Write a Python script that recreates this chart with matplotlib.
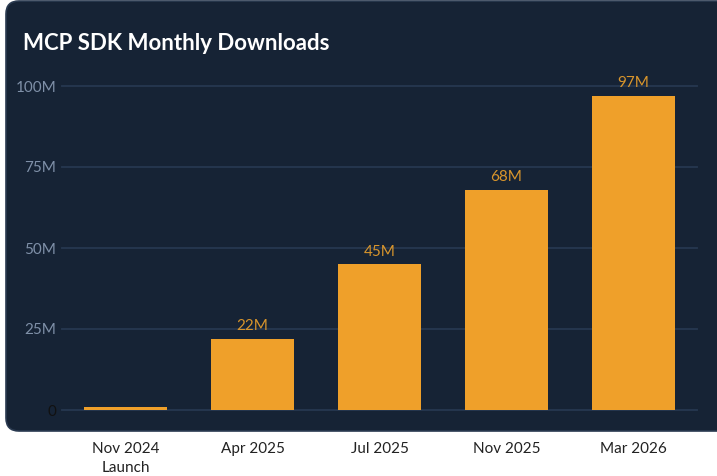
import matplotlib
matplotlib.use("Agg")
import matplotlib.pyplot as plt
import matplotlib.patches as mpatches

categories = ["Nov 2024\nLaunch", "Apr 2025", "Jul 2025", "Nov 2025", "Mar 2026"]
downloads_m = [1, 22, 45, 68, 97]
value_labels = ["", "22M", "45M", "68M", "97M"]
y_ticks = [0, 25, 50, 75, 100]
y_tick_labels = ["0", "25M", "50M", "75M", "100M"]

W, H = 717, 476
plt.rcParams['font.family'] = ['Lato', 'DejaVu Sans']
fig = plt.figure(figsize=(W / 100, H / 100), dpi=100)
fig.patch.set_facecolor("white")

panel = mpatches.FancyBboxPatch((6, H - 431), 740, 430,
                                boxstyle="round,pad=0,rounding_size=13",
                                transform=None, facecolor="#162335",
                                edgecolor="#2a3a50", linewidth=1.2, zorder=-10)
fig.patches.append(panel)

ax = fig.add_axes([62 / W, (H - 410) / H, 635 / W, 324 / H])
ax.set_zorder(5)
ax.set_facecolor("none")
x = list(range(len(categories)))
bars = ax.bar(x, downloads_m, width=0.65, color="#EFA02A", zorder=3)
for yt in y_ticks:
    ax.axhline(yt, color="#263850", linewidth=1.3, zorder=1, clip_on=False)
for b, lab in zip(bars, value_labels):
    if lab:
        ax.annotate(lab, (b.get_x() + b.get_width() / 2, b.get_height()),
                    xytext=(0, 4), textcoords="offset points", ha="center",
                    va="bottom", color="#D8952C", fontsize=11, zorder=4)
ax.set_xlim(-0.5, len(categories) - 0.5)
ax.set_ylim(0, 100)
ax.set_yticks(y_ticks)
ax.set_yticklabels(y_tick_labels, fontsize=11)
for t, lab in zip(ax.get_yticklabels(), y_tick_labels):
    t.set_color("#111111" if lab == "0" else "#7F90A8")
ax.set_xticks(x)
ax.set_xticklabels(categories, fontsize=11, color="#222222", linespacing=1.5, va="top")
ax.tick_params(axis="x", length=0, pad=23)
ax.tick_params(axis="y", length=0, pad=4)
for s in ax.spines.values():
    s.set_visible(False)

fig.text(23 / W, 1 - 50 / H, "MCP SDK Monthly Downloads", fontsize=16,
         fontweight="bold", color="white", va="baseline", ha="left")

fig.savefig("out.png", dpi=100, facecolor="white")
